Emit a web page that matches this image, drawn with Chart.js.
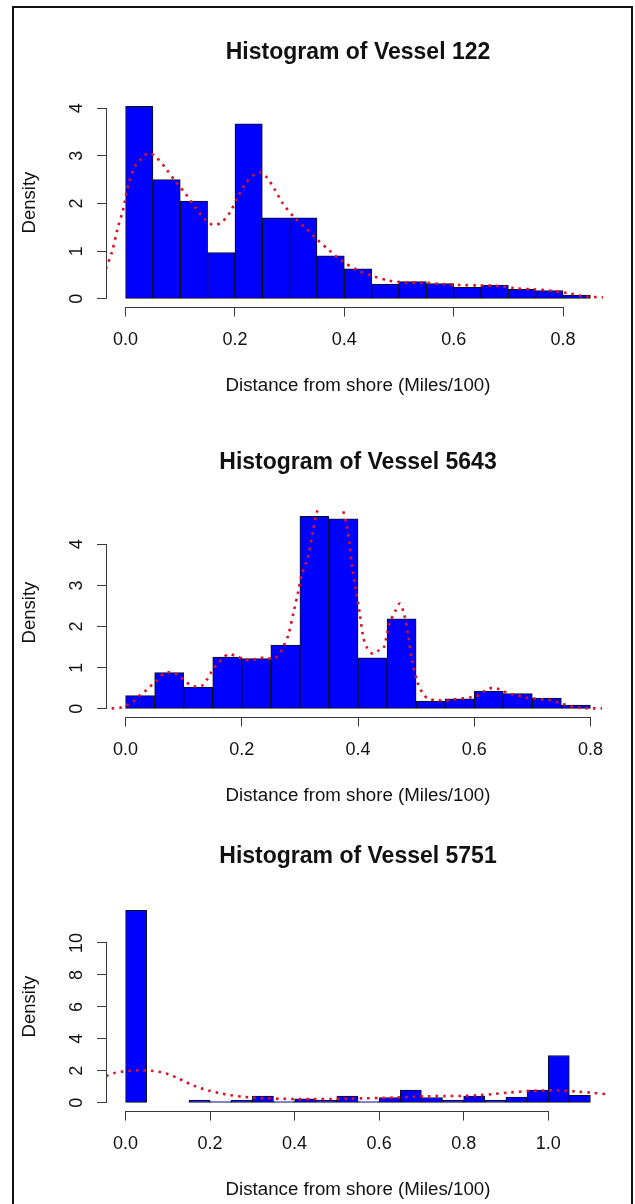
<!DOCTYPE html>
<html>
<head>
<meta charset="utf-8">
<title>Histograms of vessel distance from shore</title>
<script src="https://cdn.jsdelivr.net/npm/chart.js@4.4.1/dist/chart.umd.min.js"></script>
<style>
    html, body { margin: 0; padding: 0; background: #fff; }
    body { width: 635px; height: 1204px; overflow: hidden; position: relative; }
    .frame { position: absolute; left: 12px; top: 6px; width: 617px; height: 1230px; border: 2px solid #111; }
    .panel { position: absolute; left: 0; width: 635px; height: 410px; }
</style>
</head>
<body>
<div class="frame"></div>
<div class="panel" style="top:0px"><canvas id="vessel122"></canvas></div>
<div class="panel" style="top:410px"><canvas id="vessel5643"></canvas></div>
<div class="panel" style="top:804px"><canvas id="vessel5751"></canvas></div>
<script>
/* global Chart, document */

// Vessel 122
const breaks122 = [0, 0.05, 0.1, 0.15, 0.2, 0.25, 0.3, 0.35, 0.4, 0.45, 0.5, 0.55, 0.6, 0.65, 0.7, 0.75, 0.8, 0.85];
const density122 = [4.04, 2.50, 2.05, 0.97, 3.67, 1.70, 1.70, 0.90, 0.63, 0.31, 0.36, 0.32, 0.24, 0.29, 0.20, 0.17, 0.08];
const kdeX122 = [-0.036, -0.025, -0.014, -0.005, 0.006, 0.019, 0.03, 0.042, 0.056, 0.074, 0.092, 0.11, 0.126, 0.144, 0.160,
    0.175, 0.19, 0.205, 0.221, 0.235, 0.246, 0.258, 0.273, 0.287, 0.308, 0.328, 0.35, 0.373, 0.395, 0.426, 0.454, 0.482,
    0.512, 0.543, 0.579, 0.61, 0.646, 0.68, 0.714, 0.744, 0.778, 0.808, 0.84, 0.873];
const kdeY122 = [0.63, 0.98, 1.5, 1.85, 2.43, 2.82, 2.95, 3.06, 2.97, 2.73, 2.45, 2.2, 1.94, 1.68, 1.55,
    1.6, 1.8, 2.13, 2.45, 2.6, 2.65, 2.55, 2.29, 2.01, 1.71, 1.5, 1.25, 1.01, 0.8, 0.59, 0.47, 0.38,
    0.34, 0.34, 0.31, 0.29, 0.28, 0.27, 0.22, 0.2, 0.17, 0.12, 0.05, 0.03];
const xTicks122 = [0, 0.2, 0.4, 0.6, 0.8];
const yTicks122 = [0, 1, 2, 3, 4];

// Vessel 5643
const breaks5643 = [0, 0.05, 0.1, 0.15, 0.2, 0.25, 0.3, 0.35, 0.4, 0.45, 0.5, 0.55, 0.6, 0.65, 0.7, 0.75, 0.8];
const density5643 = [0.32, 0.88, 0.53, 1.26, 1.22, 1.55, 4.68, 4.62, 1.24, 2.19, 0.19, 0.24, 0.43, 0.37, 0.26, 0.09];
const kdeX5643 = [-0.024, -0.008, 0.005, 0.016, 0.026, 0.037, 0.046, 0.056, 0.066, 0.081, 0.094, 0.105, 0.118, 0.131,
    0.14, 0.148, 0.157, 0.167, 0.177, 0.19, 0.203, 0.216, 0.23, 0.244, 0.256, 0.267, 0.274, 0.28, 0.29, 0.297, 0.303,
    0.314, 0.323, 0.33, 0.34, 0.352, 0.362, 0.373, 0.38, 0.385, 0.39, 0.395, 0.403, 0.409, 0.415, 0.425, 0.436, 0.444,
    0.454, 0.465, 0.472, 0.479, 0.486, 0.493, 0.503, 0.511, 0.52, 0.534, 0.552, 0.566, 0.595, 0.61, 0.618, 0.631, 0.644,
    0.658, 0.674, 0.688, 0.703, 0.717, 0.731, 0.746, 0.759, 0.773, 0.787, 0.803, 0.82];
const kdeY5643 = [0.01, 0.03, 0.11, 0.21, 0.35, 0.47, 0.59, 0.71, 0.86, 0.88, 0.78, 0.64, 0.55, 0.56,
    0.71, 0.9, 1.08, 1.22, 1.33, 1.28, 1.21, 1.18, 1.24, 1.23, 1.22, 1.38, 1.59, 1.79, 2.4, 2.84, 3.25,
    3.69, 4.36, 4.81, 5.1, 5.0, 5.1, 4.86, 4.5, 4.05, 3.43, 3.0, 2.32, 1.75, 1.5, 1.34, 1.42, 1.47,
    2.07, 2.4, 2.56, 2.32, 1.83, 1.18, 0.62, 0.39, 0.25, 0.21, 0.2, 0.23, 0.28, 0.34, 0.44, 0.51, 0.47,
    0.38, 0.33, 0.27, 0.25, 0.23, 0.21, 0.15, 0.09, 0.04, 0.02, 0.01, 0.01];
const xTicks5643 = [0, 0.2, 0.4, 0.6, 0.8];
const yTicks5643 = [0, 1, 2, 3, 4];

// Vessel 5751
const breaks5751 = [0, 0.05, 0.1, 0.15, 0.2, 0.25, 0.3, 0.35, 0.4, 0.45, 0.5, 0.55, 0.6, 0.65, 0.7, 0.75, 0.8, 0.85,
    0.9, 0.95, 1.0, 1.05, 1.1];
const density5751 = [12.04, 0, 0, 0.17, 0.08, 0.17, 0.42, 0.08, 0.25, 0.17, 0.42, 0.08, 0.33, 0.79, 0.33, 0.17, 0.42,
    0.17, 0.36, 0.79, 2.96, 0.46];
const kdeX5751 = [-0.046, -0.027, -0.008, 0.012, 0.036, 0.06, 0.079, 0.101, 0.122, 0.141, 0.159, 0.177, 0.199, 0.223,
    0.247, 0.276, 0.305, 0.334, 0.372, 0.41, 0.449, 0.488, 0.526, 0.564, 0.603, 0.641, 0.68, 0.718, 0.757, 0.795,
    0.834, 0.872, 0.911, 0.949, 0.988, 1.026, 1.064, 1.103, 1.146];
const kdeY5751 = [1.67, 1.86, 1.95, 2.0, 2.04, 2.0, 1.94, 1.78, 1.56, 1.32, 1.1, 0.92, 0.75, 0.6,
    0.48, 0.38, 0.32, 0.28, 0.25, 0.23, 0.23, 0.24, 0.26, 0.28, 0.3, 0.33, 0.38, 0.41, 0.42, 0.43,
    0.47, 0.55, 0.65, 0.73, 0.77, 0.77, 0.71, 0.63, 0.52];
const xTicks5751 = [0, 0.2, 0.4, 0.6, 0.8, 1.0];
const yTicks5751 = [0, 2, 4, 6, 8, 10];

const FONT = "'Liberation Sans', Arial, Helvetica, sans-serif";
const AXIS_COLOR = "#3a3a3a";
const TEXT_COLOR = "#111";

// R style axes: the axis line only runs from the first to the last tick
const rAxisLines = {
    id: "rAxisLines",
    afterDraw(chart) {
        const {ctx, scales: {x, y}} = chart;
        const xt = x.ticks;
        const yt = y.ticks;
        ctx.save();
        ctx.strokeStyle = AXIS_COLOR;
        ctx.lineWidth = 1;
        ctx.beginPath();
        ctx.moveTo(x.getPixelForValue(xt[0].value), Math.round(x.top) + 0.5);
        ctx.lineTo(x.getPixelForValue(xt[xt.length - 1].value), Math.round(x.top) + 0.5);
        ctx.moveTo(Math.round(y.right) - 0.5, y.getPixelForValue(yt[0].value));
        ctx.lineTo(Math.round(y.right) - 0.5, y.getPixelForValue(yt[yt.length - 1].value));
        ctx.stroke();
        ctx.restore();
    }
};

function histogramChart(canvasId, title, breaks, density, kdeX, kdeY, xTicks, yTicks, yLabelPad) {
    const bars = density.map((d, i) => ({x: (breaks[i] + breaks[i + 1]) / 2, y: d}));
    const kde = kdeX.map((x, i) => ({x: x, y: kdeY[i]}));

    // R pads the plot region by 4% on each side
    const xSpan = breaks[breaks.length - 1] - breaks[0];
    const yTop = Math.max(...density);

    return new Chart(document.getElementById(canvasId), {
        type: "bar",
        data: {
            datasets: [
                {
                    type: "line",
                    data: kde,
                    borderColor: "#dc1420",
                    borderWidth: 2.6,
                    borderDash: [2.6, 5],
                    borderCapStyle: "butt",
                    pointRadius: 0,
                    tension: 0.3,
                    fill: false,
                    order: 0,
                },
                {
                    type: "bar",
                    data: bars,
                    backgroundColor: "#0000ff",
                    borderColor: "#111",
                    borderWidth: 1,
                    borderSkipped: false,
                    categoryPercentage: 1,
                    barPercentage: 1,
                    order: 1,
                }
            ]
        },
        options: {
            responsive: true,
            maintainAspectRatio: false,
            animation: false,
            events: [],
            layout: {padding: {left: 0, right: 26, top: 0, bottom: 3.5}},
            plugins: {
                legend: {display: false},
                tooltip: {enabled: false},
                title: {
                    display: true,
                    text: title,
                    fullSize: false,
                    color: TEXT_COLOR,
                    font: {family: FONT, size: 23, weight: "bold", lineHeight: 1.2},
                    padding: {top: 39, bottom: 32}
                }
            },
            scales: {
                x: {
                    type: "linear",
                    offset: false,
                    min: breaks[0] - 0.04 * xSpan,
                    max: breaks[breaks.length - 1] + 0.04 * xSpan,
                    afterBuildTicks: scale => { scale.ticks = xTicks.map(v => ({value: v})); },
                    afterFit: scale => { scale.height = 100; },
                    border: {display: false},
                    grid: {offset: false, drawOnChartArea: false, drawTicks: true, tickLength: 10, color: AXIS_COLOR},
                    ticks: {
                        color: TEXT_COLOR,
                        font: {family: FONT, size: 18},
                        padding: 13,
                        maxRotation: 0,
                        autoSkip: false,
                        callback: v => v.toFixed(1)
                    },
                    title: {
                        display: true,
                        text: "Distance from shore (Miles/100)",
                        color: TEXT_COLOR,
                        font: {family: FONT, size: 18.7},
                        padding: {top: 0, bottom: 9}
                    }
                },
                y: {
                    type: "linear",
                    min: -0.04 * yTop,
                    max: 1.04 * yTop,
                    afterBuildTicks: scale => { scale.ticks = yTicks.map(v => ({value: v})); },
                    afterFit: scale => { scale.width = 107; },
                    border: {display: false},
                    grid: {drawOnChartArea: false, drawTicks: true, tickLength: 10, color: AXIS_COLOR},
                    ticks: {
                        color: TEXT_COLOR,
                        font: {family: FONT, size: 18},
                        minRotation: 90,
                        maxRotation: 90,
                        crossAlign: "center",
                        padding: yLabelPad,
                        autoSkip: false,
                        callback: v => String(v)
                    },
                    title: {
                        display: true,
                        text: "Density",
                        color: TEXT_COLOR,
                        font: {family: FONT, size: 18.5},
                        padding: {top: 19, bottom: 0}
                    }
                }
            }
        },
        plugins: [rAxisLines]
    });
}

histogramChart("vessel122", "Histogram of Vessel 122", breaks122, density122, kdeX122, kdeY122, xTicks122, yTicks122, 15);
histogramChart("vessel5643", "Histogram of Vessel 5643", breaks5643, density5643, kdeX5643, kdeY5643, xTicks5643, yTicks5643, 15);
histogramChart("vessel5751", "Histogram of Vessel 5751", breaks5751, density5751, kdeX5751, kdeY5751, xTicks5751, yTicks5751, 10);
</script>
</body>
</html>
